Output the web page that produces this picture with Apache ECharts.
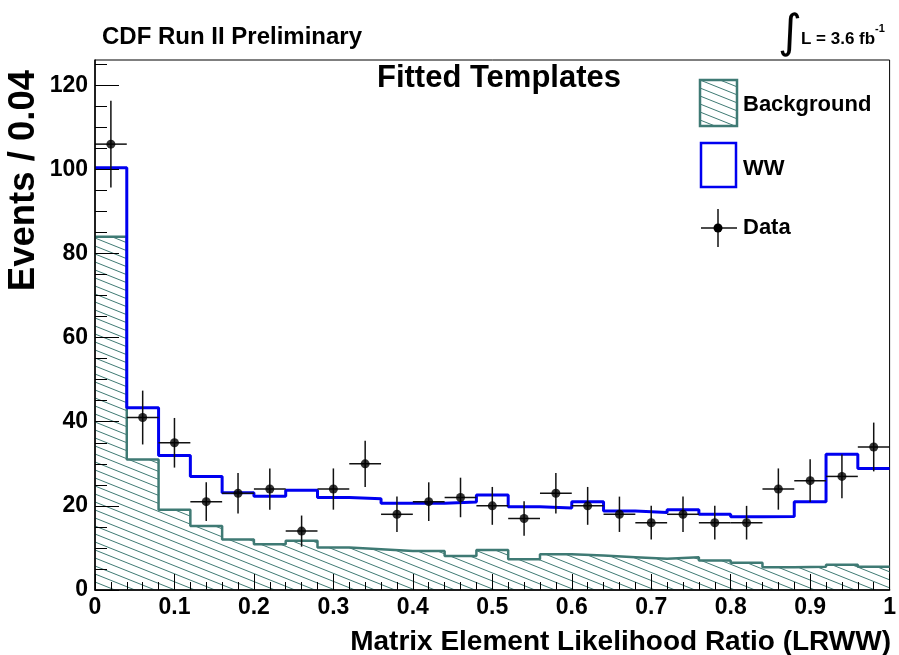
<!DOCTYPE html>
<html><head><meta charset="utf-8">
<script src="https://cdn.jsdelivr.net/npm/echarts@6/dist/echarts.min.js"></script>
<style>html,body{margin:0;padding:0;background:#fff}#c{width:899px;height:655px}</style>
</head><body><div id="c"></div>
<script>
// Bin edges (25 bins of width 0.04)
const binEdges = [0,0.04,0.08,0.12,0.16,0.2,0.24,0.28,0.32,0.36,0.4,0.44,0.48,0.52,0.56,0.6,0.64,0.68,0.72,0.76,0.8,0.84,0.88,0.92,0.96,1];
// Fitted background template
const background = [84.0,31.0,19.1,15.2,12.0,10.9,11.7,10.1,9.7,9.3,9.3,8.1,9.5,7.3,8.5,8.2,7.8,7.4,7.8,7.0,6.5,5.4,5.5,6.0,5.5];
// WW + background (stacked total)
const wwTotal = [100.4,43.3,32.0,27.0,23.1,22.3,23.7,22.0,21.7,20.6,20.6,20.9,22.6,19.8,19.5,21.0,18.8,18.4,19.1,18.0,17.4,17.5,21.0,32.3,28.9];
// Data counts and their error bars
const dataCounts = [106,41,35,21,23,24,14,24,30,18,21,22,20,17,23,20,18,16,18,16,16,24,26,27,34];
const dataErrors = [10.3,6.4,5.9,4.6,4.8,4.9,3.7,4.9,5.5,4.2,4.6,4.7,4.5,4.1,4.8,4.5,4.2,4.0,4.2,4.0,4.0,4.9,5.1,5.2,5.8];
// Tick labels
const yTickLabels = [0,20,40,60,80,100,120];
const yMinorTicks = [0,5,10,15,20,25,30,35,40,45,50,55,60,65,70,75,80,85,90,95,100,105,110,115,120,125];

const TEAL = '#3f7a74';
const BLUE = '#0000f0';
const FONT = 'Liberation Sans';

function makeHatch() {
  const c = document.createElement('canvas');
  c.width = 20; c.height = 8;
  const ctx = c.getContext('2d');
  ctx.strokeStyle = TEAL; ctx.lineWidth = 1;
  [-8, 0, 8].forEach(dy => {
    ctx.beginPath(); ctx.moveTo(0, dy); ctx.lineTo(20, dy + 8); ctx.stroke();
  });
  return c;
}
const hatch = makeHatch();

function steps(vals) {
  const out = vals.map((v, i) => [binEdges[i], v]);
  out.push([binEdges[binEdges.length - 1], vals[vals.length - 1]]);
  return out;
}
const errData = dataCounts.map((v, i) => [
  (binEdges[i] + binEdges[i + 1]) / 2, v, binEdges[i], binEdges[i + 1], dataErrors[i]
]);
const pointData = errData.map(d => [d[0], d[1]]);

const chart = echarts.init(document.getElementById('c'), null, {renderer: 'canvas'});
const txt = (text, x, y, size, extra) => Object.assign({
  type: 'text', x, y, z: 100,
  style: Object.assign({text, fontFamily: FONT, fontWeight: 'bold', fontSize: size, fill: '#000',
    align: 'left', verticalAlign: 'middle'}, extra || {})
});

chart.setOption({
  animation: false,
  backgroundColor: '#fff',
  grid: {left: 95, right: 6, top: 60, bottom: 65, show: true, borderColor: '#000', borderWidth: 1, containLabel: false},
  xAxis: {
    type: 'value', min: 0, max: 1, interval: 0.1, z: 10,
    axisLine: {show: true, onZero: false, lineStyle: {color: '#000', width: 1.5}},
    axisTick: {show: true, inside: true, length: 16, lineStyle: {color: '#000', width: 1}},
    minorTick: {show: true, splitNumber: 5, length: 8, lineStyle: {color: '#000', width: 1}},
    splitLine: {show: false},
    axisLabel: {fontFamily: FONT, fontWeight: 'bold', fontSize: 23, color: '#000', margin: 6}
  },
  yAxis: [{
    type: 'value', min: 0, max: 126, interval: 20, z: 10,
    axisLine: {show: true, onZero: false, lineStyle: {color: '#000', width: 1.5}},
    axisTick: {show: true, inside: true, length: 24, customValues: yTickLabels, lineStyle: {color: '#000', width: 1}},
    splitLine: {show: false},
    axisLabel: {fontFamily: FONT, fontWeight: 'bold', fontSize: 23, color: '#000', margin: 7, customValues: yTickLabels}
  }, {
    type: 'value', min: 0, max: 126, position: 'left', z: 10,
    axisLine: {show: false},
    axisTick: {show: true, inside: true, length: 12, customValues: yMinorTicks, lineStyle: {color: '#000', width: 1}},
    splitLine: {show: false},
    axisLabel: {show: false}
  }],
  series: [{
    name: 'Background', type: 'line', step: 'end', data: steps(background), symbol: 'none', z: 2,
    lineStyle: {color: TEAL, width: 2.5},
    areaStyle: {color: {image: hatch, repeat: 'repeat'}, opacity: 1}
  }, {
    name: 'WW', type: 'line', step: 'end', data: steps(wwTotal), symbol: 'none', z: 3,
    lineStyle: {color: BLUE, width: 3}
  }, {
    name: 'DataErr', type: 'custom', z: 4, data: errData, encode: {x: 0, y: 1},
    renderItem: function (params, api) {
      const xc = api.value(0), y = api.value(1), lo = api.value(2), hi = api.value(3), e = api.value(4);
      const pC = api.coord([xc, y]), pL = api.coord([lo, y]), pR = api.coord([hi, y]);
      const pT = api.coord([xc, y + e]), pB = api.coord([xc, y - e]);
      const st = {stroke: '#111', lineWidth: 1.5};
      return {type: 'group', children: [
        {type: 'line', shape: {x1: pL[0], y1: pC[1], x2: pR[0], y2: pC[1]}, style: st},
        {type: 'line', shape: {x1: pC[0], y1: pT[1], x2: pC[0], y2: pB[1]}, style: st}
      ]};
    }
  }, {
    name: 'Data', type: 'scatter', z: 5, data: pointData, symbol: 'circle', symbolSize: 9,
    itemStyle: {color: '#000'}
  }],
  graphic: [
    txt('CDF Run II Preliminary', 102, 37, 24),
    txt('Fitted Templates', 499, 78, 31, {align: 'center'}),
    {type: 'text', x: 24, y: 70, rotation: Math.PI / 2, z: 100,
      style: {text: 'Events / 0.04', fontFamily: FONT, fontWeight: 'bold', fontSize: 36.5, fill: '#000', align: 'right', verticalAlign: 'middle'}},
    txt('Matrix Element Likelihood Ratio (LRWW)', 891, 642, 28, {align: 'right'}),
    {type: 'text', x: 790, y: 35, z: 100,
      style: {text: '\u222B', fontFamily: 'DejaVu Sans', fontSize: 46, fill: '#000', align: 'center', verticalAlign: 'middle'}},
    txt('L = 3.6 fb', 801, 39, 17),
    txt('-1', 875, 29, 11),
    {type: 'rect', z: 100, shape: {x: 700, y: 80, width: 37, height: 46},
      style: {fill: {image: hatch, repeat: 'repeat'}, stroke: TEAL, lineWidth: 2.5}},
    txt('Background', 743, 104.5, 22),
    {type: 'rect', z: 100, shape: {x: 701, y: 143, width: 35, height: 44},
      style: {fill: '#fff', stroke: BLUE, lineWidth: 2.5}},
    txt('WW', 743, 168.5, 22),
    {type: 'line', z: 100, shape: {x1: 701, y1: 228, x2: 737, y2: 228}, style: {stroke: '#111', lineWidth: 1.5}},
    {type: 'line', z: 100, shape: {x1: 718, y1: 209, x2: 718, y2: 247}, style: {stroke: '#111', lineWidth: 1.5}},
    {type: 'circle', z: 101, shape: {cx: 718, cy: 228, r: 4.5}, style: {fill: '#000'}},
    txt('Data', 743, 227.5, 22)
  ]
});
</script></body></html>
